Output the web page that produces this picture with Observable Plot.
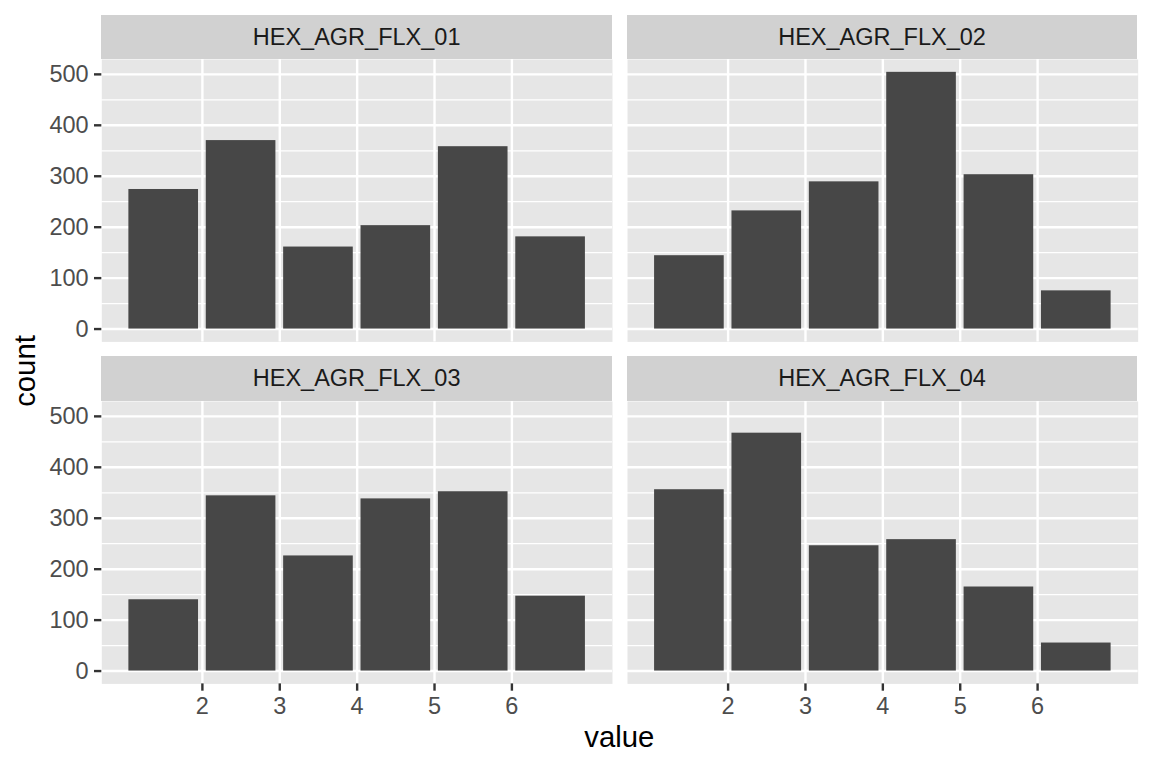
<!DOCTYPE html>
<html>
<head>
<meta charset="utf-8">
<script src="https://cdn.jsdelivr.net/npm/d3@7"></script>
<script src="https://cdn.jsdelivr.net/npm/@observablehq/plot@0.6"></script>
<style>
  html, body { margin: 0; padding: 0; background: #ffffff; }
  #chart { position: relative; width: 1152px; height: 768px; overflow: hidden;
           font-family: "Liberation Sans", Arial, Helvetica, sans-serif; }
  #chart svg { position: absolute; background: transparent; overflow: visible; max-width: none; }
  .strip { position: absolute; background: #D1D1D1; color: #1A1A1A; text-align: center;
           font-size: 23.5px; white-space: nowrap; }
  .title { position: absolute; font-size: 29.3px; color: #000; line-height: 1; white-space: nowrap; }
</style>
</head>
<body>
<div id="chart"></div>
<script>
// ---- data ----
const categories = ["HEX_AGR_FLX_01", "HEX_AGR_FLX_02", "HEX_AGR_FLX_03", "HEX_AGR_FLX_04"];
const values = [1.5, 2.5, 3.5, 4.5, 5.5, 6.5];
const counts01 = [274, 370, 161, 203, 358, 181];
const counts02 = [144, 232, 289, 504, 303, 75];
const counts03 = [140, 344, 226, 338, 352, 147];
const counts04 = [356, 467, 246, 258, 165, 55];
const xTicks = [2, 3, 4, 5, 6];
const yTicks = [0, 100, 200, 300, 400, 500];
const yMinor = [50, 150, 250, 350, 450];
const xLabel = "value";
const yLabel = "count";

const seriesCounts = [counts01, counts02, counts03, counts04];

// ---- layout (px) ----
const FONT = '"Liberation Sans", Arial, Helvetica, sans-serif';
const panelW = 510.7, panelH = 282.4, stripH = 44.6;
const colLeft = [101.3, 626.7];
const rowStripTop = [14.7, 356.4];
const tickLen = 7.3, tickPad = 5.9, tickFont = 23.5;

// scales derived from data (ggplot-style 5% expansion)
const yMax = d3.max(seriesCounts.flat());
const yDomain = [-0.05 * yMax, 1.05 * yMax];
const xLo = d3.min(values) - 0.5, xHi = d3.max(values) + 0.5;
const xPad = 0.05 * (xHi - xLo);
const xDomain = [xLo - xPad, xHi + xPad];

const chart = document.getElementById("chart");

categories.forEach((cat, i) => {
  const col = i % 2, row = Math.floor(i / 2);
  const data = values.map((v, j) => ({value: v, count: seriesCounts[i][j]}));
  const showY = col === 0, showX = row === 1;
  const mLeft = showY ? colLeft[0] : 0;
  const mBottom = showX ? 60 : 0;

  const marks = [
    Plot.frame({fill: "#E6E6E6", stroke: "none"}),
    Plot.ruleY(yMinor, {stroke: "#ffffff", strokeWidth: 1.2}),
    Plot.ruleY(yTicks, {stroke: "#ffffff", strokeWidth: 2.4}),
    Plot.ruleX(xTicks, {stroke: "#ffffff", strokeWidth: 2.4}),
    Plot.rectY(data, {x1: d => d.value - 0.45, x2: d => d.value + 0.45, y: "count", fill: "#474747"})
  ];
  if (showY) marks.push(Plot.axisY({ticks: yTicks, tickSize: tickLen, tickPadding: tickPad,
    fontSize: tickFont, stroke: "#333333", fill: "#4D4D4D", strokeWidth: 2.4, label: null,
    tickFormat: d3.format("d")}));
  if (showX) marks.push(Plot.axisX({ticks: xTicks, tickSize: tickLen, tickPadding: tickPad,
    fontSize: tickFont, stroke: "#333333", fill: "#4D4D4D", strokeWidth: 2.4, label: null,
    tickFormat: d3.format("d")}));

  const svg = Plot.plot({
    width: mLeft + panelW,
    height: panelH + mBottom,
    marginLeft: mLeft, marginRight: 0, marginTop: 0, marginBottom: mBottom,
    x: {domain: xDomain, axis: null},
    y: {domain: yDomain, axis: null},
    style: {background: "transparent", fontFamily: FONT, overflow: "visible"},
    marks
  });
  svg.style.left = (colLeft[col] - mLeft) + "px";
  svg.style.top = (rowStripTop[row] + stripH) + "px";
  chart.appendChild(svg);

  const strip = document.createElement("div");
  strip.className = "strip";
  strip.style.left = colLeft[col] + "px";
  strip.style.top = rowStripTop[row] + "px";
  strip.style.width = panelW + "px";
  strip.style.height = stripH + "px";
  strip.style.lineHeight = stripH + "px";
  strip.textContent = cat;
  chart.appendChild(strip);
});

const xt = document.createElement("div");
xt.className = "title";
xt.textContent = xLabel;
xt.style.left = ((colLeft[0] + colLeft[1] + panelW) / 2) + "px";
xt.style.top = "721.9px";
xt.style.transform = "translateX(-50%)";
chart.appendChild(xt);

const yt = document.createElement("div");
yt.className = "title";
yt.textContent = yLabel;
yt.style.left = "24.8px";
yt.style.top = ((rowStripTop[0] + stripH + rowStripTop[1] + stripH + panelH) / 2) + "px";
yt.style.transform = "translate(-50%, -50%) rotate(-90deg)";
chart.appendChild(yt);
</script>
</body>
</html>
